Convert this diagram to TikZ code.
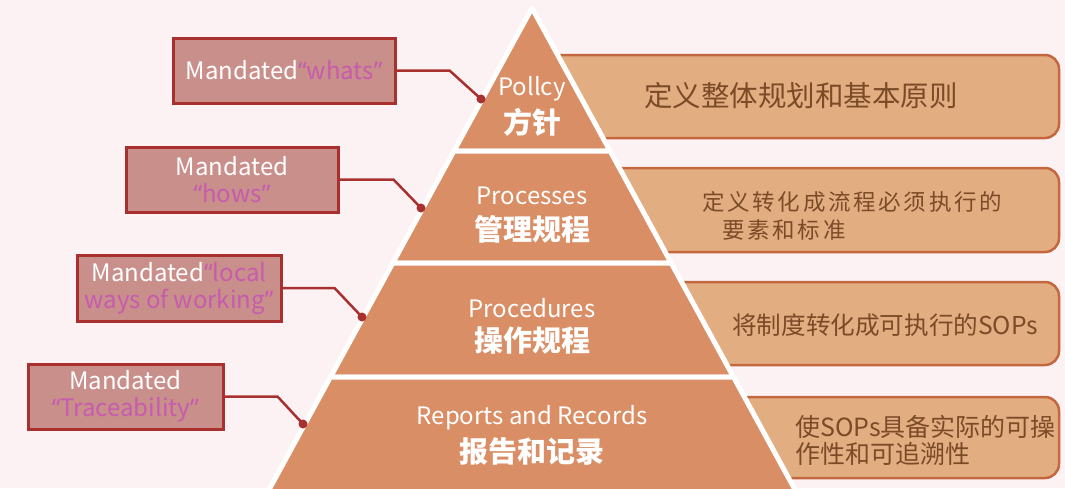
\documentclass[tikz,border=0pt]{standalone}
\usepackage{fontspec}
\setmainfont{Noto Sans CJK SC}
\newfontfamily\qf{Noto Sans}
\newfontfamily\spacedcjk{Noto Sans CJK SC}[LetterSpace=12]
\definecolor{bg}{HTML}{FCF2F3}
\definecolor{pyr}{HTML}{D98E65}
\definecolor{rbox}{HTML}{E3AD82}
\definecolor{rboxline}{HTML}{C4673F}
\definecolor{rtext}{HTML}{7B4B27}
\definecolor{lbox}{HTML}{C98F8B}
\definecolor{lline}{HTML}{A8302F}
\definecolor{mag}{HTML}{C75BAE}
\newcommand{\myoq}{{\qf “}}
\newcommand{\mycq}{{\qf ”}}
\tikzset{
  tier/.style={fill=pyr, draw=white, line width=5pt, line join=round},
  rboxst/.style={fill=rbox, draw=rboxline, line width=2.5pt, rounded corners=14pt},
  lboxst/.style={fill=lbox, draw=lline, line width=3pt, inner sep=0pt, align=center,
     font=\fontsize{24}{27}\selectfont, text=white, minimum height=65pt},
  conn/.style={draw=lline, line width=2.5pt, line join=round},
  plat/.style={text=white, font=\fontsize{24}{27}\selectfont, inner sep=0pt},
  pcjk/.style={text=white, font=\fontsize{29}{30}\selectfont\bfseries, inner sep=0pt},
  rtxt/.style={text=rtext, inner sep=0pt, align=left}
}
\begin{document}
\begin{tikzpicture}[x=1pt,y=-1pt]
\fill[bg] (0,0) rectangle (1065,488);
\useasboundingbox (0,0) rectangle (1065,488);
\begin{scope}
\clip (0,0) rectangle (1065,488);
% right boxes
\draw[rboxst] (532,55) rectangle (1059,138);
\draw[rboxst] (532,168) rectangle (1059,252);
\draw[rboxst] (532,282) rectangle (1059,365);
\draw[rboxst] (532,397) rectangle (1059,478);
% pyramid tiers
\draw[tier] (532,8) -- (610.1,151) -- (453.9,151) -- cycle;
\draw[tier] (453.9,151) -- (610.1,151) -- (671.2,263) -- (392.8,263) -- cycle;
\draw[tier] (392.8,263) -- (671.2,263) -- (733.5,377) -- (330.5,377) -- cycle;
\draw[tier] (330.5,377) -- (733.5,377) -- (797.9,495) -- (266.1,495) -- cycle;
\end{scope}
% pyramid labels
\node[plat] (p1a) at (532,89) {Pollcy};
\node[pcjk] (p1b) at (532,122) {方针};
\node[plat] (p2a) at (532,196) {Processes};
\node[pcjk] (p2b) at (532,229) {管理规程};
\node[plat] (p3a) at (532,308) {Procedures};
\node[pcjk] (p3b) at (532,341) {操作规程};
\node[plat] (p4a) at (532,418) {Reports and Records};
\node[pcjk] (p4b) at (532,452) {报告和记录};
% right texts
\node[rtxt, font=\fontsize{28.5}{30}\selectfont] (r1) at (801,96) {定义整体规划和基本原则};
\node[rtxt, anchor=west, font=\fontsize{22.5}{28}\selectfont\spacedcjk] (r2) at (702,216)
  {定义转化成流程必须执行的\\\hspace*{20pt}要素和标准};
\node[rtxt, anchor=west, font=\fontsize{24.6}{28}\selectfont] (r3) at (732,325) {将制度转化成可执行的SOPs};
\node[rtxt, anchor=west, font=\fontsize{25}{27}\selectfont] (r4) at (795,440)
  {使SOPs具备实际的可操\\作性和可追溯性};
% left boxes
\node[lboxst, minimum width=222pt] (la) at (284,70.5) {Mandated\textcolor{mag}{\myoq whats\mycq}};
\node[lboxst, minimum width=212pt] (lb) at (232,179.5) {Mandated\\\textcolor{mag}{\myoq hows\mycq}};
\node[lboxst, minimum width=204pt, minimum height=66pt] (lc) at (179,288) {Mandated\textcolor{mag}{\myoq local}\\\textcolor{mag}{ways of working\mycq}};
\node[lboxst, minimum width=195pt] (ld) at (125.5,396.5) {Mandated\\\textcolor{mag}{\myoq Traceability\mycq}};
% connectors
\coordinate (da) at (481,99);
\coordinate (db) at (421,208);
\coordinate (dc) at (362,317);
\coordinate (dd) at (303,424);
\draw[conn] (la.east) -- ++(53,0) -- (da);
\draw[conn] (lb.east) -- ++(54,0) -- (db);
\draw[conn] (lc.east) -- ++(52,0) -- (dc);
\draw[conn] (ld.east) -- ++(53,0) -- (dd);
\fill[lline] (da) circle (4.5pt);
\fill[lline] (db) circle (4.5pt);
\fill[lline] (dc) circle (4.5pt);
\fill[lline] (dd) circle (4.5pt);
\end{tikzpicture}
\end{document}
